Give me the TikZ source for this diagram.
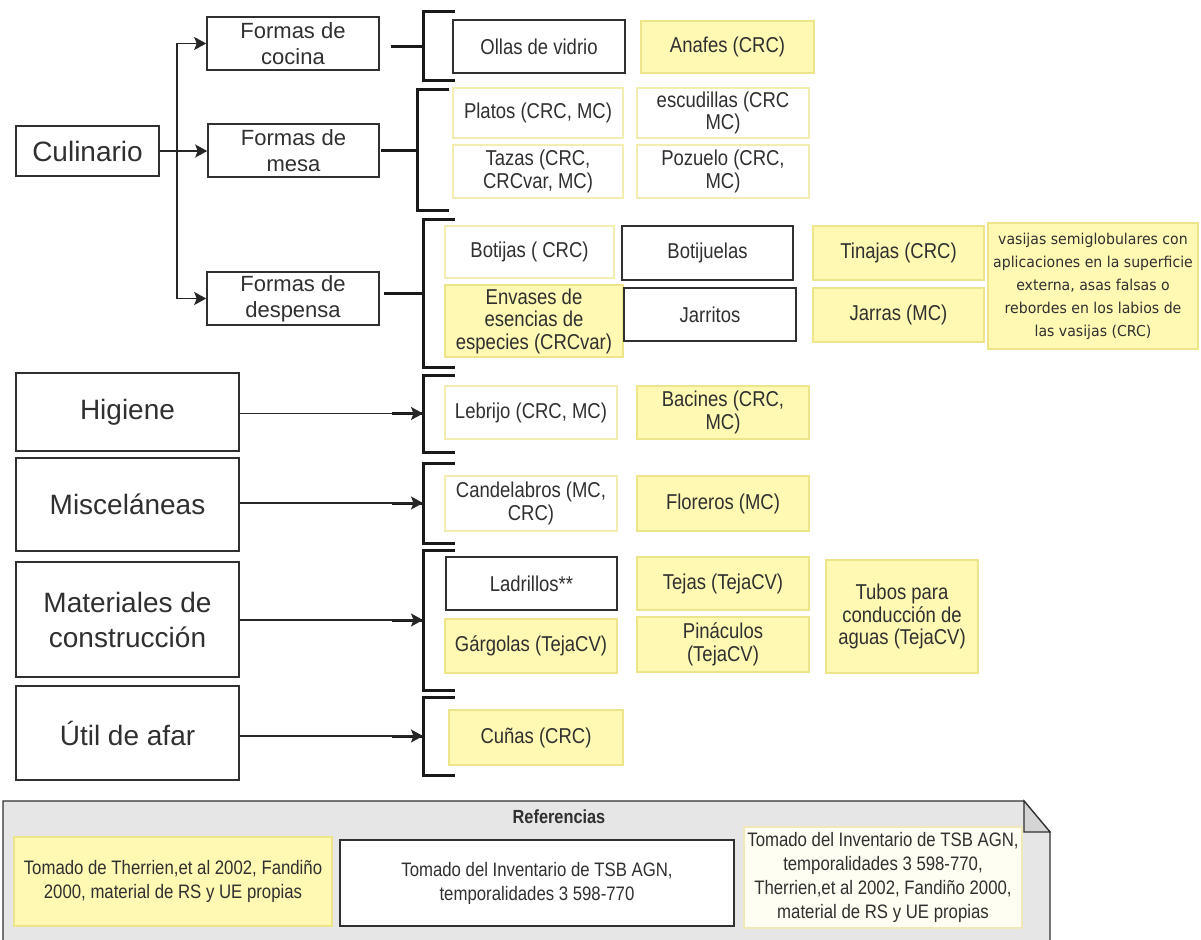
\documentclass[tikz,border=0pt]{standalone}
\usepackage{fontspec}
\setmainfont{Liberation Sans}
\newfontfamily\condfont[FakeStretch=0.86]{Liberation Sans}
\newfontfamily\notefont[FakeStretch=0.94]{DejaVu Sans}
\usetikzlibrary{arrows.meta}

\definecolor{ink}{HTML}{303030}
\definecolor{yfill}{HTML}{FFF9B4}
\definecolor{yline}{HTML}{EEE48A}
\definecolor{pline}{HTML}{F3EEB0}
\definecolor{gfill}{HTML}{E6E6E6}
\definecolor{gfold}{HTML}{D4D4D4}
\definecolor{cream}{HTML}{FFFEF2}
\definecolor{cline}{HTML}{F0E8B8}

\tikzset{
  sz/.style 2 args={minimum width=#1, minimum height=#2},
  catbox/.style={draw=ink, line width=1.6pt, fill=white, text=ink, align=center,
    inner sep=0pt, font=\fontsize{28}{35}\selectfont},
  formbox/.style={draw=ink, line width=1.6pt, fill=white, text=ink, align=center,
    inner sep=0pt, font=\fontsize{22}{26}\selectfont},
  itembase/.style={align=center, inner sep=0pt, text=ink,
    font=\condfont\fontsize{21.5}{22.5}\selectfont},
  yitem/.style={itembase, draw=yline, fill=yfill, line width=1.4pt},
  pitem/.style={itembase, draw=pline, fill=white, line width=1.4pt},
  witem/.style={itembase, draw=ink, fill=white, line width=1.6pt},
  legtext/.style={align=center, inner sep=0pt, text=ink,
    font=\condfont\fontsize{19.5}{24}\selectfont},
  brk/.style={line width=3pt, draw=black!90},
  edge/.style={draw=black!85, line width=1.4pt,
    -{Stealth[length=12pt,width=13pt,inset=2.5pt]}},
}

% bracket "[" with a stub on its left side: name, x, top, bottom, stub start
\newcommand{\drawbracket}[5]{%
  \draw[brk] (#2+32,#3) -- (#2,#3) -- (#2,#4) -- (#2+32,#4);
  \coordinate (#1) at (#2,{(#3+#4)/2});
  \draw[brk] (#5,{(#3+#4)/2}) -- (#1);
}

\begin{document}
\begin{tikzpicture}[x=1pt, y=-1pt]
\fill[white] (0,0) rectangle (1201,939);
\useasboundingbox (0,0) rectangle (1201,939);

% categories
\node[catbox, sz={143}{50}] (cul) at (87.5,151) {Culinario};
\node[formbox, sz={172}{53}] (cocina) at (293,43.5) {Formas de\\cocina};
\node[formbox, sz={171}{53}] (mesa) at (293.5,150.5) {Formas de\\mesa};
\node[formbox, sz={172}{53}] (desp) at (293,298.5) {Formas de\\despensa};
\node[catbox, sz={223}{78}] (hig) at (127.5,412) {Higiene};
\node[catbox, sz={223}{93}] (misc) at (127.5,504.5) {Misceláneas};
\node[catbox, sz={223}{115}] (mat) at (127.5,619.5) {Materiales de\\construcción};
\node[catbox, sz={223}{94}] (util) at (127.5,733) {Útil de afar};

% brackets
\drawbracket{b1}{423}{12}{81}{391}
\drawbracket{b2}{417}{90}{210}{381}
\drawbracket{b3}{423}{219}{367}{384}
\drawbracket{b4}{423}{375}{452}{392}
\drawbracket{b5}{423}{463}{543}{392}
\drawbracket{b6}{423}{550}{690}{392}
\drawbracket{b7}{423}{697}{775}{392}

% connectors
\draw[edge] (cul.east) -- ++(17,0) |- (cocina.west);
\draw[edge] (cul.east) -- (cul.east -| mesa.west);
\draw[edge] (cul.east) -- ++(17,0) |- (desp.west);
\draw[edge] (hig.east |- b4) -- (b4);
\draw[edge] (misc.east |- b5) -- (b5);
\draw[edge] (mat.east |- b6) -- (b6);
\draw[edge] (util.east |- b7) -- (b7);

% cocina
\node[witem, sz={172}{53}] (ollas) at (539,46.5) {Ollas de vidrio};
\node[yitem, sz={173}{52}] (anafes) at (727.5,47) {Anafes (CRC)};
% mesa
\node[pitem, sz={170}{50}] (platos) at (538,113) {Platos (CRC, MC)};
\node[pitem, sz={172}{50}] (escud) at (723,113) {escudillas (CRC\\MC)};
\node[pitem, sz={170}{53}] (tazas) at (538,171.5) {Tazas (CRC,\\CRCvar, MC)};
\node[pitem, sz={172}{53}] (pozuelo) at (723,171.5) {Pozuelo (CRC,\\MC)};
% despensa
\node[pitem, sz={169}{52}] (botijas) at (529.5,252) {Botijas ( CRC)};
\node[witem, sz={171}{54}] (botijuelas) at (707.5,253) {Botijuelas};
\node[yitem, sz={178}{72}] (envases) at (534,321) {Envases de\\esencias de\\especies (CRCvar)};
\node[witem, sz={172}{53}] (jarritos) at (710,314.5) {Jarritos};
\node[yitem, sz={171}{54}] (tinajas) at (898.5,253) {Tinajas (CRC)};
\node[yitem, sz={171}{54}] (jarras) at (898.5,315) {Jarras (MC)};
\node[yitem, sz={210}{126}, font=\notefont\fontsize{15}{23}\selectfont] (vasijas) at (1093,286)
  {vasijas semiglobulares con\\aplicaciones en la superficie\\externa, asas falsas o\\rebordes en los labios de\\las vasijas (CRC)};
% higiene
\node[pitem, sz={172}{53}] (lebrijo) at (531,412.5) {Lebrijo (CRC, MC)};
\node[yitem, sz={172}{53}] (bacines) at (723,412.5) {Bacines (CRC,\\MC)};
% miscelaneas
\node[pitem, sz={172}{55}] (candel) at (531,503.5) {Candelabros (MC,\\CRC)};
\node[yitem, sz={172}{55}] (floreros) at (723,503.5) {Floreros (MC)};
% materiales
\node[witem, sz={171}{53}] (ladrillos) at (531.5,583.5) {Ladrillos**};
\node[yitem, sz={172}{53}] (tejas) at (723,583.5) {Tejas (TejaCV)};
\node[yitem, sz={172}{54}] (gargolas) at (531,646) {Gárgolas (TejaCV)};
\node[yitem, sz={172}{55}] (pinaculos) at (723,644.5) {Pináculos\\(TejaCV)};
\node[yitem, sz={152}{113}] (tubos) at (902,616.5) {Tubos para\\conducción de\\aguas (TejaCV)};
% util
\node[yitem, sz={174}{55}] (cunas) at (536,737.5) {Cuñas (CRC)};

% legend
\path[draw=ink, line width=1.4pt, fill=gfill]
  (3,801) -- (1024,801) -- (1050,832) -- (1050,950) -- (3,950) -- cycle;
\path[draw=ink, line width=1.2pt, fill=gfold] (1024,801) -- (1024,832) -- (1050,832) -- cycle;
\node[legtext, font=\condfont\bfseries\fontsize{19}{24}\selectfont] (ref) at (559,817) {Referencias};
\node[legtext, draw=yline, fill=yfill, line width=1.4pt, sz={318}{89}] (l1) at (173,881.5)
  {Tomado de Therrien,et al 2002, Fandiño\\2000, material de RS y UE propias};
\node[legtext, draw=ink, fill=white, line width=1.4pt, sz={394}{86}] (l2) at (537,883)
  {Tomado del Inventario de TSB AGN,\\temporalidades 3 598-770};
\node[legtext, draw=cline, fill=cream, line width=1.4pt, sz={278}{101}] (l3) at (883,877.5)
  {Tomado del Inventario de TSB AGN,\\temporalidades 3 598-770,\\Therrien,et al 2002, Fandiño 2000,\\material de RS y UE propias};
\end{tikzpicture}
\end{document}
